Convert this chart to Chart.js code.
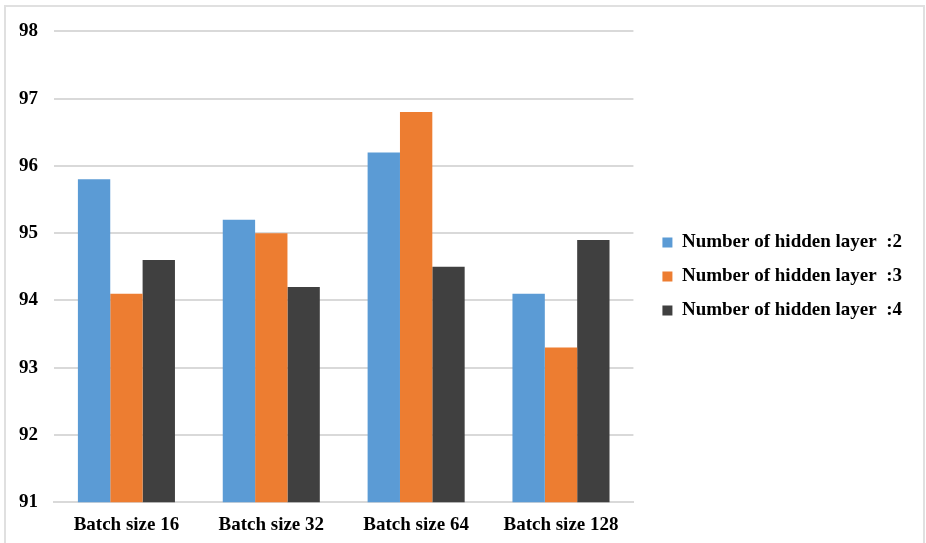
<!DOCTYPE html>
<html>
<head>
<meta charset="utf-8">
<script src="https://cdn.jsdelivr.net/npm/chart.js@4"></script>
<style>
  html, body { margin: 0; padding: 0; background: #fff; }
  #frame {
    position: absolute; left: 4px; top: 5px;
    width: 917px; height: 542px;
    border: 2px solid #e0e0e0; border-bottom: none;
  }
  #chart { display: block; position: relative; top: -3px; }
</style>
</head>
<body>
<div id="frame"><canvas id="chart" width="917" height="543"></canvas></div>
<script>
// Accuracy by batch size for different numbers of hidden layers
const categories = ['Batch size 16', 'Batch size 32', 'Batch size 64', 'Batch size 128'];
const layer2 = [95.8, 95.2, 96.2, 94.1];
const layer3 = [94.1, 95.0, 96.8, 93.3];
const layer4 = [94.6, 94.2, 94.5, 94.9];
const seriesNames = ['Number of hidden layer  :2', 'Number of hidden layer  :3', 'Number of hidden layer  :4'];
const yTicks = [91, 92, 93, 94, 95, 96, 97, 98];

const colors = ['#5b9bd5', '#ed7d31', '#404040'];
const font = { family: "'Liberation Serif', 'Times New Roman', serif", size: 19, weight: 'bold' };

// leave a wider gap between the plot and the legend, and nudge legend up a bit
const LEGEND_GAP = 14;
const LEGEND_LIFT = 2;
const legendGap = {
  id: 'legendGap',
  beforeLayout(chart) {
    const legend = chart.legend;
    if (legend && !legend._gapPatched) {
      const fit = legend.fit;
      legend.fit = function () { fit.call(this); this.width += LEGEND_GAP; };
      legend._gapPatched = true;
    }
  },
  afterLayout(chart) {
    const legend = chart.legend;
    if (!legend) return;
    legend.left += LEGEND_GAP;
    legend.top -= LEGEND_LIFT;
    legend.bottom -= LEGEND_LIFT;
  }
};

new Chart(document.getElementById('chart'), {
  type: 'bar',
  data: {
    labels: categories,
    datasets: [layer2, layer3, layer4].map((vals, i) => ({
      label: seriesNames[i],
      data: vals,
      backgroundColor: colors[i],
      borderWidth: 0,
      categoryPercentage: 0.67,
      barPercentage: 1.0
    }))
  },
  plugins: [legendGap],
  options: {
    responsive: false,
    animation: false,
    layout: { padding: { left: -3, top: 6, right: 11, bottom: 0 } },
    plugins: {
      tooltip: { enabled: false },
      legend: {
        position: 'right',
        maxWidth: 400,
        labels: {
          font: font,
          color: '#000',
          boxWidth: 10,
          boxHeight: 10,
          padding: 15
        }
      }
    },
    scales: {
      x: {
        grid: { display: false, drawTicks: false },
        border: { display: true, color: '#d9d9d9', width: 2 },
        ticks: { font: font, color: '#000', padding: 11 }
      },
      y: {
        min: 91,
        max: 98,
        afterBuildTicks: (axis) => { axis.ticks = yTicks.map(v => ({ value: v })); },
        grid: { color: '#d9d9d9', lineWidth: 2, drawTicks: false },
        border: { display: false },
        ticks: { font: font, color: '#000', padding: 16 }
      }
    }
  }
});
</script>
</body>
</html>
